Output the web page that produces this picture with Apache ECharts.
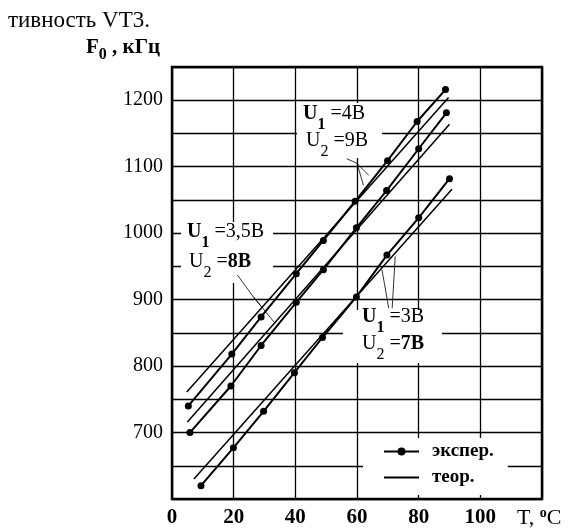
<!DOCTYPE html>
<html><head><meta charset="utf-8">
<script src="https://cdn.jsdelivr.net/npm/echarts@6/dist/echarts.min.js"></script>
<style>html,body{margin:0;padding:0;background:#fff}#c{width:570px;height:532px}</style>
</head><body><div id="c"></div>
<script>
// Axis ticks
const tempTicks = [0, 20, 40, 60, 80, 100];
const freqTicks = [700, 800, 900, 1000, 1100, 1200];

// U1 = 4 В, U2 = 9 В
const exp4T = [5.3, 19.4, 28.9, 40.3, 49.1, 59.4, 69.9, 79.5, 88.7];
const exp4F = [740, 818, 874, 939, 989, 1048, 1109, 1168, 1216];
const teor4T = [4.8, 89.7];
const teor4F = [761, 1204];

// U1 = 3,5 В, U2 = 8 В
const exp35T = [5.8, 19.1, 28.9, 40.3, 49.1, 59.8, 69.6, 80.0, 89.0];
const exp35F = [700, 770, 831, 896, 945, 1008, 1064, 1127, 1181];
const teor35T = [5.0, 90.0];
const teor35F = [716, 1164];

// U1 = 3 В, U2 = 7 В
const exp3T = [9.4, 19.9, 29.7, 39.7, 48.8, 59.8, 69.7, 80.0, 90.0];
const exp3F = [620, 677, 732, 790, 843, 904, 967, 1023, 1082];
const teor3T = [7.1, 90.8];
const teor3F = [630, 1066];

// leader lines of the annotations (data coordinates)
const leader4a = [[56.7, 1112], [60.0, 1105], [63.8, 1087]];
const leader4b = [[60.0, 1105], [62.1, 1072]];
const leader35a = [[21.2, 937], [26.4, 904], [29.1, 889]];
const leader35b = [[26.4, 904], [33.5, 864]];
const leader3a = [[70.3, 887], [68.1, 945]];
const leader3b = [[71.4, 887], [72.4, 965]];

const zip = (a, b) => a.map((v, i) => [v, b[i]]);
const FF = 'Liberation Serif';

const chart = echarts.init(document.getElementById('c'), null, {renderer: 'canvas'});

function expSeries(T, F) {
  return {name: 'экспер.', type: 'line', data: zip(T, F), symbol: 'circle', symbolSize: 7,
    itemStyle: {color: '#000'}, lineStyle: {color: '#000', width: 2}, z: 3, animation: false};
}
function teorSeries(T, F) {
  return {name: 'теор.', type: 'line', data: zip(T, F), symbol: 'circle', showSymbol: false,
    itemStyle: {color: '#000'}, lineStyle: {color: '#000', width: 1.5}, z: 3, animation: false};
}
function leaderSeries(pts) {
  return {name: 'leader', type: 'line', data: pts, symbol: 'none', silent: true,
    itemStyle: {color: '#000'}, lineStyle: {color: '#000', width: 0.8}, z: 3, animation: false};
}

const rich = {
  ub: {fontFamily: FF, fontWeight: 'bold', fontSize: 20, lineHeight: 29, verticalAlign: 'top', color: '#000'},
  sb: {fontFamily: FF, fontWeight: 'bold', fontSize: 16, lineHeight: 16, verticalAlign: 'bottom', color: '#000'},
  n: {fontFamily: FF, fontSize: 20, lineHeight: 29, verticalAlign: 'top', color: '#000'},
  s: {fontFamily: FF, fontSize: 16, lineHeight: 16, verticalAlign: 'bottom', color: '#000'},
  nb: {fontFamily: FF, fontWeight: 'bold', fontSize: 20, lineHeight: 29, verticalAlign: 'top', color: '#000'}
};

function label(x, y, text) {
  return {type: 'text', x: x, y: y, z: 10, style: {text: text, rich: rich, fill: '#000'}};
}
function box(x, y, w, h) {
  return {type: 'rect', z: 1, shape: {x: x, y: y, width: w, height: h}, style: {fill: '#fff'}, silent: true};
}

const option = {
  backgroundColor: '#fff',
  animation: false,
  grid: {left: 172, right: 28, top: 67, bottom: 33, show: true, borderColor: '#000', borderWidth: 2.5, backgroundColor: 'transparent'},
  xAxis: {
    type: 'value', min: 0, max: 120, interval: 20,
    axisLine: {show: false}, axisTick: {show: false},
    splitLine: {show: true, lineStyle: {color: '#000', width: 1.3}},
    axisLabel: {color: '#000', fontFamily: FF, fontWeight: 'bold', fontSize: 21, margin: 8,
      formatter: v => tempTicks.includes(v) ? String(v) : ''}
  },
  yAxis: {
    type: 'value', min: 600, max: 1250, interval: 50,
    axisLine: {show: false}, axisTick: {show: false},
    splitLine: {show: true, lineStyle: {color: '#000', width: 1.3}},
    axisLabel: {color: '#000', fontFamily: FF, fontSize: 20, margin: 9,
      formatter: v => freqTicks.includes(v) ? String(v) : ''}
  },
  legend: {
    data: [{name: 'экспер.'}, {name: 'теор.', itemStyle: {opacity: 0}}],
    orient: 'vertical', left: 363, top: 438,
    padding: [3, 14, 7, 20], itemWidth: 35, itemHeight: 10, itemGap: 5,
    backgroundColor: '#fff', selectedMode: false,
    textStyle: {color: '#000', fontFamily: FF, fontSize: 19, lineHeight: 21, fontWeight: 'bold', padding: [0, 0, 0, 8]}
  },
  graphic: [
    {type: 'text', x: 8, y: 9, style: {text: 'тивность VT3.', font: '23px "Liberation Serif"', fill: '#000'}},
    {type: 'text', x: 86, y: 37, style: {text: '{f|F}{s|0}{f| , кГц}', rich: {
      f: {fontFamily: FF, fontWeight: 'bold', fontSize: 21, lineHeight: 26, verticalAlign: 'top', color: '#000'},
      s: {fontFamily: FF, fontWeight: 'bold', fontSize: 16, lineHeight: 16, verticalAlign: 'bottom', color: '#000'}
    }}},
    {type: 'text', x: 517, y: 506, style: {text: '{t|T, }{o|o}{t|C}', rich: {
      t: {fontFamily: FF, fontSize: 22, lineHeight: 23, verticalAlign: 'bottom', color: '#000'},
      o: {fontFamily: FF, fontWeight: 'bold', fontSize: 14, lineHeight: 23, verticalAlign: 'top', color: '#000'}
    }}},
    box(297, 103, 85, 55),
    box(181, 222, 92, 61),
    box(343, 310, 99, 53),
    label(303, 104, '{ub|U}{sb|1}{n| =4В}'),
    label(306, 131, '{n|U}{s|2}{n| =9В}'),
    label(187, 222, '{ub|U}{sb|1}{n| =3,5В}'),
    label(189, 252, '{n|U}{s|2}{n| =}{nb|8В}'),
    label(362, 307, '{ub|U}{sb|1}{n| =3В}'),
    label(362, 334, '{n|U}{s|2}{n| =}{nb|7В}')
  ],
  series: [
    expSeries(exp4T, exp4F), teorSeries(teor4T, teor4F),
    expSeries(exp35T, exp35F), teorSeries(teor35T, teor35F),
    expSeries(exp3T, exp3F), teorSeries(teor3T, teor3F),
    leaderSeries(leader4a), leaderSeries(leader4b),
    leaderSeries(leader35a), leaderSeries(leader35b),
    leaderSeries(leader3a), leaderSeries(leader3b)
  ]
};
chart.setOption(option);
</script>
</body></html>
